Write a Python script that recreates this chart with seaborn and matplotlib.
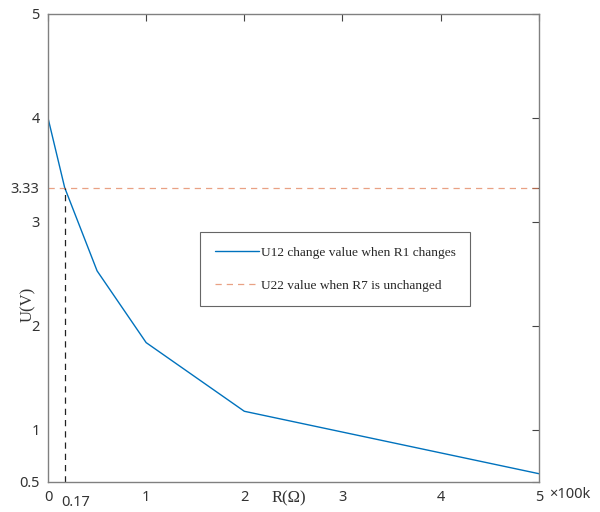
import pandas as pd
import matplotlib
matplotlib.use("Agg")
import matplotlib.pyplot as plt
import seaborn as sns

# 数据
r_vals = [0, 0.17, 0.5, 1, 2, 5]
u12_vals = [4.0, 3.33, 2.53, 1.84, 1.18, 0.58]
u22_value = 3.33
r_cross = 0.17

x_ticks = [0, 1, 2, 3, 4, 5]
y_ticks = [0.5, 1, 2, 3, 3.33, 4, 5]
y_tick_labels = ['0.5', '1', '2', '3', '3.33', '4', '5']

sns.set_style("white")
plt.rcParams['font.family'] = ['Noto Sans', 'DejaVu Sans']

df = pd.DataFrame({'R': r_vals, 'U12': u12_vals})

fig = plt.figure(figsize=(6, 5.12), dpi=100)
ax = fig.add_axes([0.08, 0.0586, 0.818, 0.9141])

sns.lineplot(data=df, x='R', y='U12', ax=ax, color='#0072BD', lw=1.0,
             label='U12 change value when R1 changes')
ax.axhline(u22_value, color='#E07A50', lw=0.9, ls=(0, (5, 4)), alpha=0.7,
           label='U22 value when R7 is unchanged')
ax.plot([r_cross, r_cross], [0.5, u22_value], color='#222222', lw=0.9,
        ls=(0, (5, 4)))

ax.set_xlim(0, 5)
ax.set_ylim(0.5, 5)
ax.set_xticks(x_ticks)
ax.set_xticklabels([str(t) for t in x_ticks])
ax.set_yticks(y_ticks)
ax.set_yticklabels(y_tick_labels)
ax.tick_params(direction='in', top=True, right=True, length=5, width=0.8,
               colors='#444444', labelsize=10.5, labelcolor='#333333', pad=6)
for s in ax.spines.values():
    s.set_color('#808080')
    s.set_linewidth(1.0)

ax.set_xlabel('')
ax.set_ylabel('U(V)', family='Liberation Serif', fontsize=12, color='#333333',
              labelpad=2)
ax.yaxis.set_label_coords(-0.024, 0.38)

# 手动标注
ax.text(2.45, 0.34, 'R(Ω)', family='Liberation Serif',
        fontsize=12, color='#333333', ha='center', va='center')
ax.text(0.28, 0.3, '0.17', fontsize=10.5, color='#333333',
        ha='center', va='center')
ax.text(5.1, 0.38, '×100k', fontsize=10.5, color='#333333',
        ha='left', va='center')

leg = ax.legend(loc='upper left', bbox_to_anchor=(0.31, 0.535), frameon=True,
                fancybox=False, edgecolor='#666666', framealpha=1,
                prop={'family': 'Liberation Serif', 'size': 9.6},
                handlelength=3.3, handletextpad=0.15, borderpad=1.1,
                labelspacing=1.55, borderaxespad=0)
leg.get_frame().set_linewidth(0.8)

fig.savefig('out.png', dpi=100)
